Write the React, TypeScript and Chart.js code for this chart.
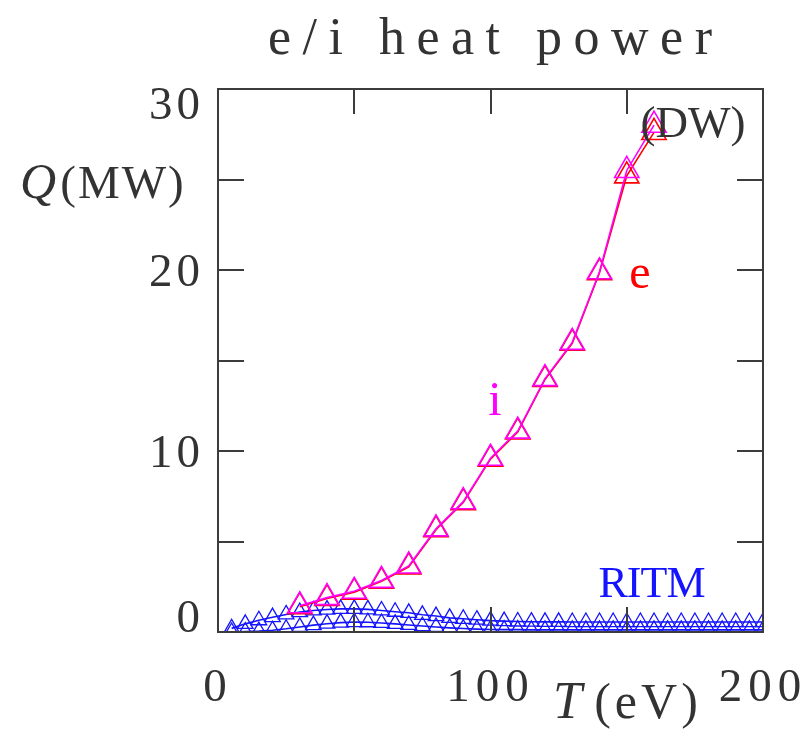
import React, { useEffect, useRef } from 'react';
import { Chart, registerables } from 'chart.js';

Chart.register(...registerables);

// DW case: ion (i) and electron (e) heating power vs temperature
const tempDW = [30, 40, 50, 60, 70, 80, 90, 100, 110, 120, 130, 140, 150, 160];
const powerIonDW = [1.45, 1.9, 2.25, 2.85, 3.65, 5.7, 7.2, 9.6, 11.1, 14.0, 16.0, 19.9, 25.5, 28.0];
const powerElecDW = [1.4, 1.85, 2.2, 2.8, 3.6, 5.65, 7.15, 9.55, 11.05, 13.95, 15.95, 19.85, 25.2, 27.6];

// RITM case: two curves on a 5 eV grid
const tempRitm = [
  5, 10, 15, 20, 25, 30, 35, 40, 45, 50, 55, 60, 65, 70, 75, 80, 85, 90, 95, 100,
  105, 110, 115, 120, 125, 130, 135, 140, 145, 150, 155, 160, 165, 170, 175, 180, 185, 190, 195, 200,
];
const powerRitmUpper = [
  0.2, 0.45, 0.65, 0.82, 0.97, 1.1, 1.19, 1.24, 1.28, 1.28, 1.25, 1.19, 1.12, 1.06, 0.95, 0.88, 0.78, 0.73, 0.68, 0.63,
  0.6, 0.58, 0.57, 0.56, 0.56, 0.55, 0.55, 0.55, 0.55, 0.55, 0.55, 0.55, 0.55, 0.55, 0.55, 0.55, 0.55, 0.55, 0.55, 0.55,
];
const powerRitmLower = [
  0.0, 0.02, 0.05, 0.1, 0.18, 0.28, 0.38, 0.46, 0.52, 0.55, 0.54, 0.5, 0.45, 0.39, 0.33, 0.28, 0.23, 0.19, 0.16, 0.14,
  0.13, 0.13, 0.12, 0.12, 0.12, 0.12, 0.12, 0.12, 0.12, 0.12, 0.12, 0.12, 0.12, 0.12, 0.12, 0.12, 0.12, 0.12, 0.12, 0.12,
];

const xTicks = [0, 50, 100, 150, 200];
const xTickLabels = ['0', '', '100', '', '200'];
const yTicks = [0, 5, 10, 15, 20, 25, 30];
const yTickLabels = ['0', '', '10', '', '20', '', '30'];

const MAGENTA = '#ff00ff';
const RED = '#ff0000';
const BLUE = '#1414ff';
const INK = '#333333';
const SERIF = '"Liberation Serif", "Times New Roman", serif';

function pts(xs: number[], ys: number[]) {
  return xs.map((x, i) => ({ x, y: ys[i] }));
}

function putText(
  ctx: CanvasRenderingContext2D,
  text: string,
  x: number,
  y: number,
  font: string,
  color: string,
  align: CanvasTextAlign = 'left',
  spacing = 0
) {
  ctx.save();
  ctx.font = font;
  ctx.fillStyle = color;
  ctx.textAlign = align;
  ctx.textBaseline = 'alphabetic';
  if ('letterSpacing' in ctx) (ctx as any).letterSpacing = spacing + 'px';
  const shift = align === 'center' ? spacing / 2 : align === 'right' ? spacing : 0;
  ctx.fillText(text, x + shift, y);
  ctx.restore();
}

const framePlugin = {
  id: 'frameAndText',
  afterDatasetsDraw(chart: any) {
    const ctx: CanvasRenderingContext2D = chart.ctx;
    const { left, right, top, bottom } = chart.chartArea;
    const xs = chart.scales.x;
    const ys = chart.scales.y;

    ctx.save();
    ctx.strokeStyle = '#3c3c3c';
    ctx.lineWidth = 2;
    ctx.strokeRect(left, top, right - left, bottom - top);

    // inward tick marks on all four sides
    ctx.beginPath();
    for (const v of yTicks) {
      const py = Math.round(ys.getPixelForValue(v));
      ctx.moveTo(left, py);
      ctx.lineTo(left + 26, py);
      ctx.moveTo(right, py);
      ctx.lineTo(right - 26, py);
    }
    for (const v of xTicks) {
      const px = Math.round(xs.getPixelForValue(v));
      ctx.moveTo(px, bottom);
      ctx.lineTo(px, bottom - 25);
      ctx.moveTo(px, top);
      ctx.lineTo(px, top + 25);
    }
    ctx.stroke();
    ctx.restore();

    // tick labels
    const digitFont = `47px ${SERIF}`;
    const digitH = 31;
    yTicks.forEach((v, i) => {
      const label = yTickLabels[i];
      if (!label) return;
      const py = ys.getPixelForValue(v);
      let t = py - digitH / 2;
      if (t < top) t = top - 1;
      if (t + digitH > bottom) t = bottom - digitH;
      putText(ctx, label, left - 18, t + digitH, digitFont, INK, 'right', 4);
    });
    xTicks.forEach((v, i) => {
      const label = xTickLabels[i];
      if (!label) return;
      const px = xs.getPixelForValue(v);
      putText(ctx, label, px - 3, 701, digitFont, INK, 'center', 6);
    });

    // title and axis titles
    putText(ctx, 'e/i heat power', 490, 54, `52px ${SERIF}`, INK, 'center', 11.5);
    putText(ctx, 'Q', 20, 198, `italic 50px ${SERIF}`, INK, 'left');
    putText(ctx, '(MW)', 122, 198, `47px ${SERIF}`, INK, 'center', 2);
    putText(ctx, 'T', 553, 718, `italic 52px ${SERIF}`, INK, 'left');
    putText(ctx, '(eV)', 646, 718, `50px ${SERIF}`, INK, 'center', 4);

    // curve labels
    putText(ctx, '(DW)', 693, 137, `45px ${SERIF}`, INK, 'center');
    putText(ctx, 'e', 640, 288, `48px ${SERIF}`, RED, 'center');
    putText(ctx, 'i', 495, 415, `48px ${SERIF}`, MAGENTA, 'center');
    putText(ctx, 'RITM', 652, 597, `44px ${SERIF}`, BLUE, 'center', -1);
  },
};

export default function App() {
  const canvasRef = useRef<HTMLCanvasElement | null>(null);

  useEffect(() => {
    document.body.style.margin = '0';
    const canvas = canvasRef.current;
    if (!canvas) return;

    const big = { pointStyle: 'triangle', pointRadius: 14, pointBorderWidth: 1.6, borderWidth: 1.6 };
    const small = { pointStyle: 'triangle', pointRadius: 9, pointBorderWidth: 1.3, borderWidth: 1.6 };

    const chart = new Chart(canvas, {
      type: 'line',
      data: {
        datasets: [
          {
            label: 'i (DW)',
            data: pts(tempDW, powerIonDW),
            borderColor: MAGENTA,
            pointBorderColor: MAGENTA,
            pointBackgroundColor: 'rgba(0,0,0,0)',
            ...big,
          },
          {
            label: 'e (DW)',
            data: pts(tempDW, powerElecDW),
            borderColor: RED,
            pointBorderColor: RED,
            pointBackgroundColor: 'rgba(0,0,0,0)',
            ...big,
          },
          {
            label: 'RITM upper',
            data: pts(tempRitm, powerRitmUpper),
            borderColor: BLUE,
            pointBorderColor: BLUE,
            pointBackgroundColor: 'rgba(0,0,0,0)',
            ...small,
          },
          {
            label: 'RITM lower',
            data: pts(tempRitm, powerRitmLower),
            borderColor: BLUE,
            pointBorderColor: BLUE,
            pointBackgroundColor: 'rgba(0,0,0,0)',
            ...small,
          },
        ] as any,
      },
      options: {
        responsive: false,
        animation: false,
        devicePixelRatio: 1,
        layout: { padding: { left: 218, top: 89, right: 49, bottom: 104 } },
        plugins: {
          legend: { display: false },
          title: { display: false },
          tooltip: { enabled: false },
        },
        elements: { line: { tension: 0 } },
        scales: {
          x: { type: 'linear', min: 0, max: 200, display: false },
          y: { type: 'linear', min: 0, max: 30, display: false },
        },
      },
      plugins: [framePlugin],
    });

    return () => chart.destroy();
  }, []);

  return (
    <div style={{ width: 812, height: 736, background: '#ffffff' }}>
      <canvas ref={canvasRef} width={812} height={736} style={{ display: 'block' }} />
    </div>
  );
}
